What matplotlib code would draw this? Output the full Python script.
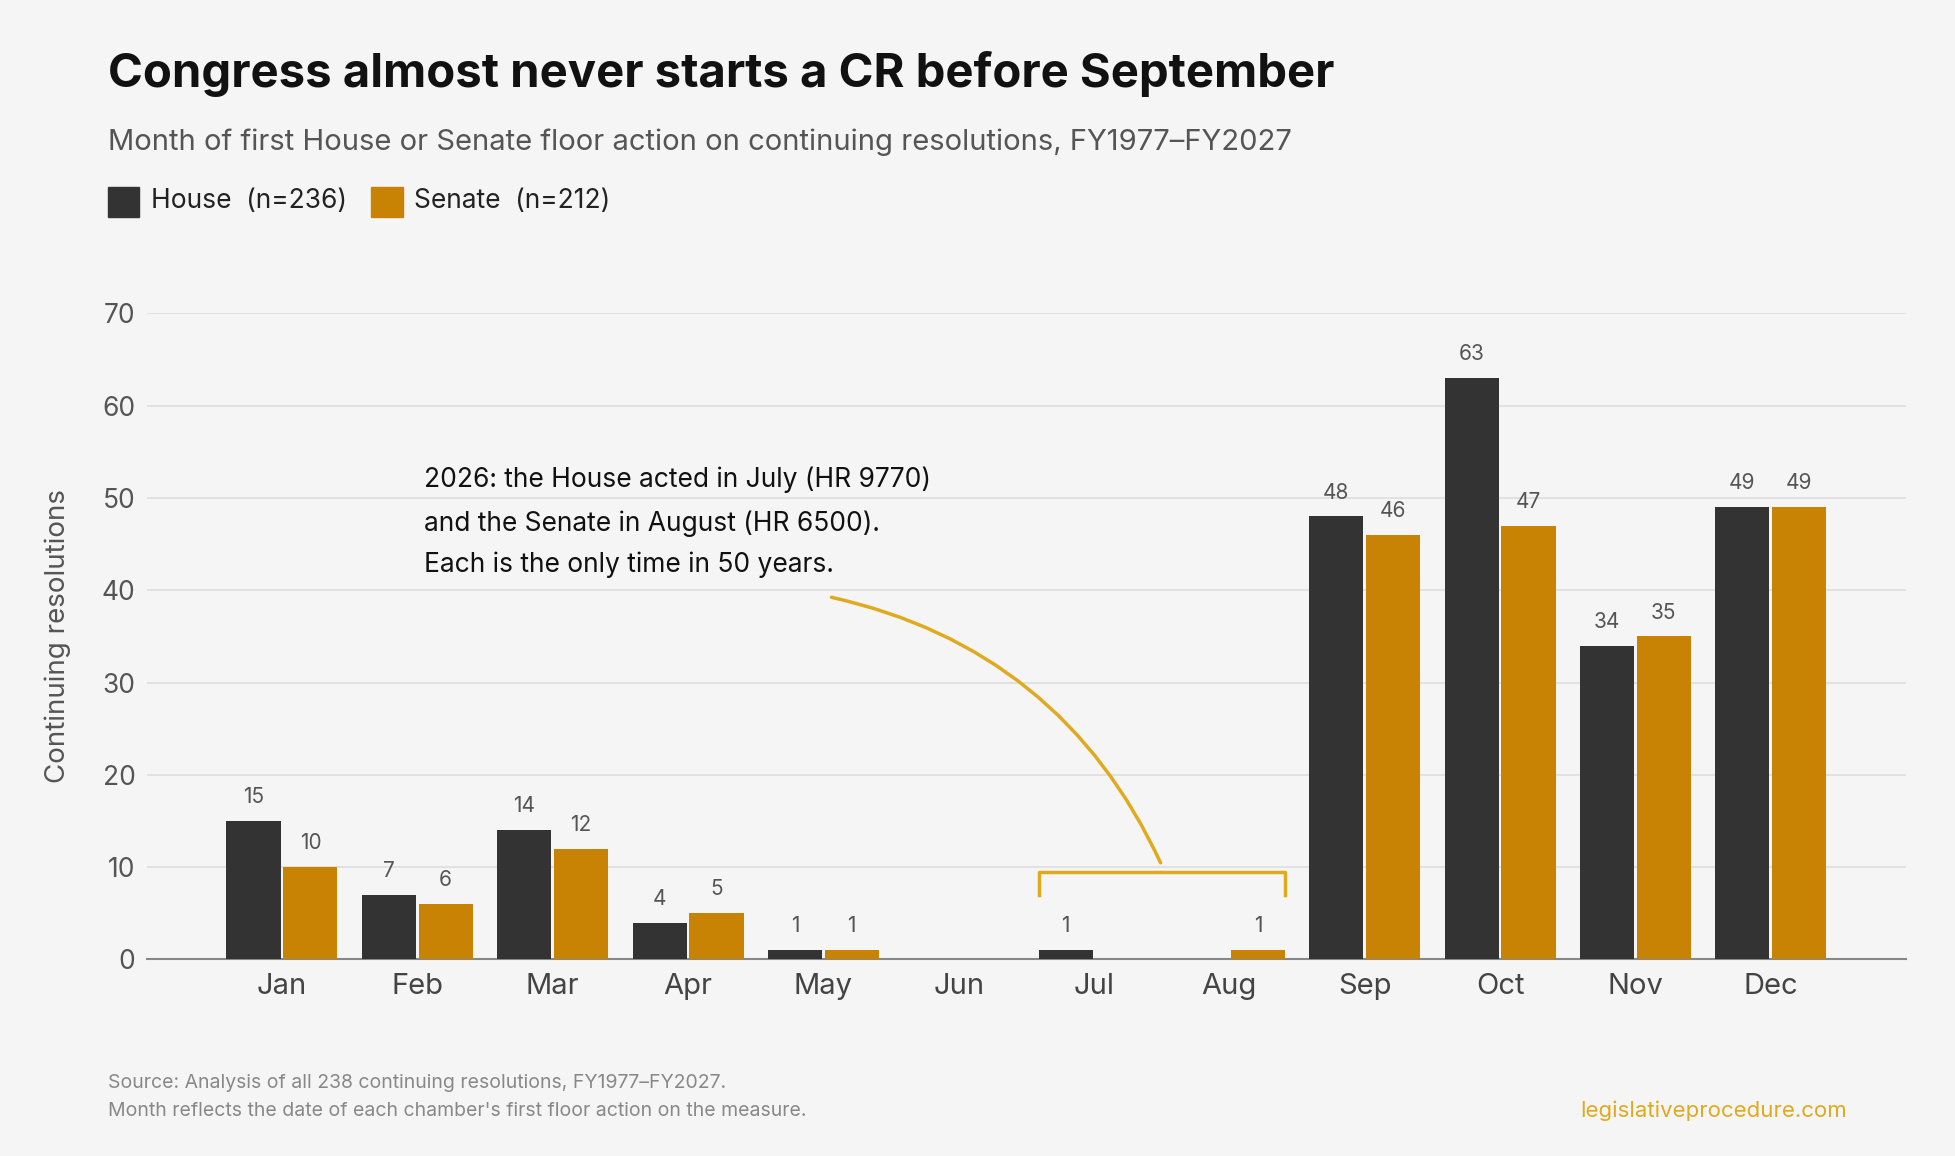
import matplotlib.pyplot as plt
from matplotlib.patches import Rectangle

months = ['Jan', 'Feb', 'Mar', 'Apr', 'May', 'Jun', 'Jul', 'Aug', 'Sep', 'Oct', 'Nov', 'Dec']
house = [15, 7, 14, 4, 1, 0, 1, 0, 48, 63, 34, 49]
senate = [10, 6, 12, 5, 1, 0, 0, 1, 46, 47, 35, 49]

BG = '#F5F5F5'
DARK = '#333333'
GOLD = '#C88204'
ACCENT = '#E0AA1E'

plt.rcParams['font.family'] = ['Inter', 'DejaVu Sans']

fig = plt.figure(figsize=(19.55, 11.56), dpi=100, facecolor=BG)
ax = fig.add_axes([0.075, 0.170, 0.900, 0.559], facecolor=BG)

x = list(range(len(months)))
w = 0.40
off = 0.21
ax.bar([i - off for i in x], house, width=w, color=DARK, zorder=3)
ax.bar([i + off for i in x], senate, width=w, color=GOLD, zorder=3)

for i in x:
    if house[i] > 0:
        ax.text(i - off, house[i] + 1.5, str(house[i]), ha='center', va='bottom', fontsize=15, color='#555555')
    if senate[i] > 0:
        ax.text(i + off, senate[i] + 1.5, str(senate[i]), ha='center', va='bottom', fontsize=15, color='#555555')

ax.set_xlim(-1.0, 12.0)
ax.set_ylim(0, 70)
ax.set_yticks(range(0, 71, 10))
ax.set_xticks(x)
ax.set_xticklabels(months, fontsize=21, color='#444444')
ax.tick_params(axis='y', labelsize=19, colors='#555555', length=0, pad=8)
ax.tick_params(axis='x', length=0, pad=10)
ax.grid(axis='y', color='#DDDDDD', linewidth=1.2, zorder=0)
for s in ['top', 'right', 'left']:
    ax.spines[s].set_visible(False)
ax.spines['bottom'].set_color('#888888')
ax.spines['bottom'].set_linewidth(1.5)
ax.set_ylabel('Continuing resolutions', fontsize=20, color='#555555', labelpad=22)

# annotation
ax.text(1.05, 52, '2026: the House acted in July (HR 9770)', fontsize=19, color='#111111', va='center')
ax.text(1.05, 47.2, 'and the Senate in August (HR 6500).', fontsize=19, color='#111111', va='center')
ax.text(1.05, 42.8, 'Each is the only time in 50 years.', fontsize=19, color='#111111', va='center')
ax.plot([6 - off - 0.2, 6 - off - 0.2, 7 + off + 0.2, 7 + off + 0.2], [7, 9.5, 9.5, 7],
        color=ACCENT, linewidth=2.5, zorder=4)
ax.annotate('', xy=(6.5, 10.2), xytext=(4.04, 39.3),
            arrowprops=dict(arrowstyle='-', color=ACCENT, linewidth=2.5,
                            connectionstyle='arc3,rad=-0.25'))

fig.text(0.055, 0.936, 'Congress almost never starts a CR before September', fontsize=34,
         fontweight='bold', color='#111111', va='center')
fig.text(0.055, 0.877, 'Month of first House or Senate floor action on continuing resolutions, FY1977\u2013FY2027',
         fontsize=21, color='#555555', va='center')

fig.patches.append(Rectangle((0.055, 0.812), 0.016, 0.0265, transform=fig.transFigure, color=DARK))
fig.text(0.077, 0.826, 'House  (n=236)', fontsize=19, color='#222222', va='center')
fig.patches.append(Rectangle((0.190, 0.812), 0.016, 0.0265, transform=fig.transFigure, color=GOLD))
fig.text(0.212, 0.826, 'Senate  (n=212)', fontsize=19, color='#222222', va='center')

fig.text(0.055, 0.063, 'Source: Analysis of all 238 continuing resolutions, FY1977\u2013FY2027.',
         fontsize=14, color='#888888', va='center')
fig.text(0.055, 0.039, "Month reflects the date of each chamber's first floor action on the measure.",
         fontsize=14, color='#888888', va='center')
fig.text(0.945, 0.039, 'legislativeprocedure.com', fontsize=16, color=ACCENT, ha='right', va='center')

fig.savefig('out.png', dpi=100, facecolor=BG)
